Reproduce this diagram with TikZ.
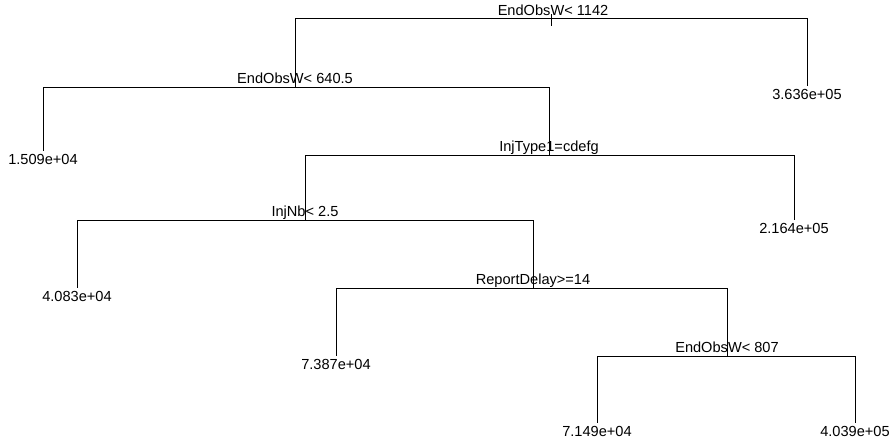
\documentclass[tikz,border=0pt]{standalone}
\usepackage{fontspec}
\setmainfont{Liberation Sans}
\usepackage{tikz}

\tikzset{
    split/.style={anchor=base, inner sep=0pt, font=\fontsize{14.6}{17}\selectfont},
    leaf/.style={anchor=north, inner xsep=0pt, inner ysep=3pt, font=\fontsize{14.6}{17}\selectfont},
    branch/.style={line width=0.8pt, black}
}

\begin{document}
\begin{tikzpicture}[x=1pt, y=-1pt]
    \useasboundingbox (0,0) rectangle (891,442);

% 分裂点
    \coordinate (root) at (551,18.5);
    \coordinate (rtop) at (551,14);
    \coordinate (rbot) at (551,26);
    \coordinate (n2) at (295,87);
    \coordinate (inj) at (549,155);
    \coordinate (nb) at (305,220);
    \coordinate (rd) at (533,288);
    \coordinate (e807) at (727,356);

    \node[split] (lroot) at (553,15) {EndObsW< 1142};
    \node[split] (ln2) at (295,83.5) {EndObsW< 640.5};
    \node[split] (linj) at (549,151.5) {InjType1=cdefg};
    \node[split] (lnb) at (305,216.5) {InjNb< 2.5};
    \node[split] (lrd) at (533,284.5) {ReportDelay>=14};
    \node[split] (le807) at (727,352.5) {EndObsW< 807};

% 叶子
    \node[leaf] (f1) at (807,86) {3.636e+05};
    \node[leaf] (f2) at (43,151) {1.509e+04};
    \node[leaf] (f3) at (794,220) {2.164e+05};
    \node[leaf] (f4) at (77,288) {4.083e+04};
    \node[leaf] (f5) at (336,356) {7.387e+04};
    \node[leaf] (f6) at (597,423) {7.149e+04};
    \node[leaf] (f7) at (855,423) {4.039e+05};

% 树枝
    \draw[branch] (rtop) -- (rbot);
    \draw[branch] (root) -| (n2);
    \draw[branch] (root) -| (f1.north);
    \draw[branch] (n2) -| (f2.north);
    \draw[branch] (n2) -| (inj);
    \draw[branch] (inj) -| (nb);
    \draw[branch] (inj) -| (f3.north);
    \draw[branch] (nb) -| (f4.north);
    \draw[branch] (nb) -| (rd);
    \draw[branch] (rd) -| (f5.north);
    \draw[branch] (rd) -| (e807);
    \draw[branch] (e807) -| (f6.north);
    \draw[branch] (e807) -| (f7.north);

\end{tikzpicture}
\end{document}
